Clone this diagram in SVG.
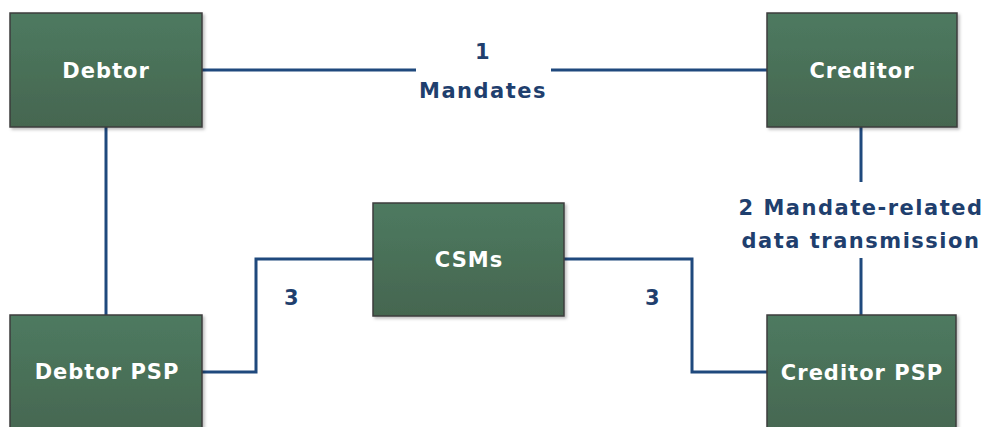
<svg xmlns="http://www.w3.org/2000/svg" width="988" height="427" viewBox="0 0 988 427">
<style>
.box{fill:url(#g);stroke:#3d3d3d;stroke-width:1.5;filter:url(#sh)}
.bt{font-family:"DejaVu Sans",sans-serif;font-weight:bold;font-size:21px;letter-spacing:1px;fill:#ffffff;text-anchor:middle}
.lbl{font-family:"DejaVu Sans",sans-serif;font-weight:bold;font-size:21px;letter-spacing:1.5px;fill:#1f3f6e;text-anchor:middle}
.c{fill:none;stroke:#1f497d;stroke-width:3}
</style>
<defs>
<linearGradient id="g" x1="0" y1="0" x2="0" y2="1">
<stop offset="0" stop-color="#4e7a60"/>
<stop offset="1" stop-color="#456650"/>
</linearGradient>
<filter id="sh" x="-10%" y="-10%" width="130%" height="130%">
<feDropShadow dx="2" dy="2" stdDeviation="1.5" flood-color="#000" flood-opacity="0.25"/>
</filter>
</defs>
<rect width="988" height="427" fill="#ffffff"/>
<g id="connectors">
<path class="c" d="M202 70 H416"/>
<path class="c" d="M551 70 H767"/>
<path class="c" d="M106 127 V315"/>
<path class="c" d="M861 127 V182"/>
<path class="c" d="M861 258 V315"/>
<path class="c" d="M202 372 H256 V259 H373"/>
<path class="c" d="M564 259 H692 V372 H767"/>
</g>
<g id="debtor"><rect class="box" x="10" y="13" width="192" height="114"/><text class="bt" x="106" y="78">Debtor</text></g>
<g id="creditor"><rect class="box" x="767" y="13" width="190" height="114"/><text class="bt" x="862" y="78">Creditor</text></g>
<g id="csms"><rect class="box" x="373" y="203" width="191" height="113"/><text class="bt" x="469" y="267">CSMs</text></g>
<g id="debtor-psp"><rect class="box" x="10" y="315" width="192" height="125"/><text class="bt" x="107" y="379">Debtor PSP</text></g>
<g id="creditor-psp"><rect class="box" x="767" y="315" width="189" height="125"/><text class="bt" x="862" y="380">Creditor PSP</text></g>
<g id="labels">
<text class="lbl" x="483" y="59">1</text>
<text class="lbl" x="483" y="98">Mandates</text>
<text class="lbl" x="861" y="215">2 Mandate-related</text>
<text class="lbl" x="861" y="248">data transmission</text>
<text class="lbl" x="292" y="305">3</text>
<text class="lbl" x="653" y="305">3</text>
</g>
</svg>
